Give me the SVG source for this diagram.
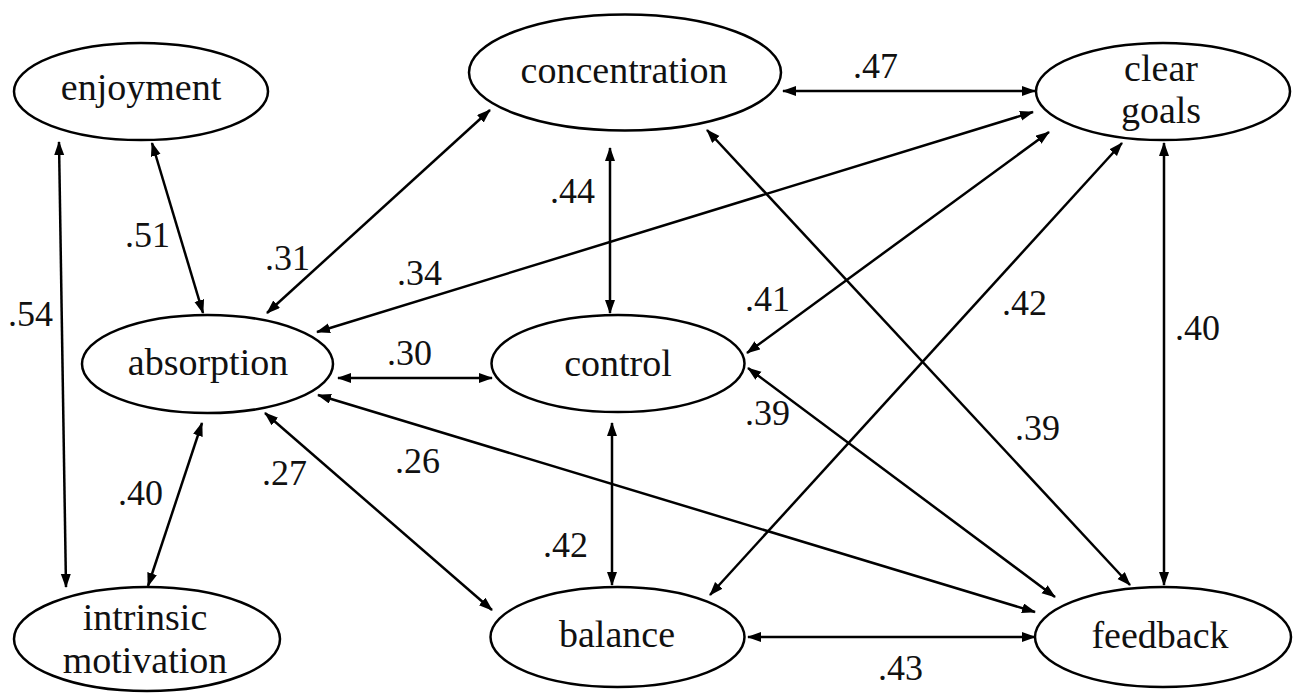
<svg xmlns="http://www.w3.org/2000/svg" width="1295" height="693" viewBox="0 0 1295 693">
<style>
.node ellipse{fill:#fff;stroke:#000;stroke-width:2.5}
.node text{font-family:'Liberation Serif','Times New Roman',serif;font-size:38px;fill:#111;text-anchor:middle}
.edges line{stroke:#000;stroke-width:2.5;marker-start:url(#ah);marker-end:url(#ah)}
.lbl{font-family:'Liberation Serif','Times New Roman',serif;font-size:36px;fill:#111}
</style>
<defs>
<marker id="ah" markerUnits="userSpaceOnUse" markerWidth="16" markerHeight="12" refX="13" refY="5" orient="auto-start-reverse">
<path d="M0,0 L14,5 L0,10 z" fill="#000"/>
</marker>
</defs>
<rect width="1295" height="693" fill="#fff"/>
<g class="edges">
<line x1="59" y1="142" x2="66" y2="587"/>
<line x1="152" y1="143" x2="203" y2="313"/>
<line x1="267" y1="313" x2="490" y2="110"/>
<line x1="317" y1="332" x2="1033" y2="112"/>
<line x1="338" y1="378" x2="492" y2="378"/>
<line x1="202" y1="423" x2="148" y2="586"/>
<line x1="265" y1="413" x2="492" y2="610"/>
<line x1="318" y1="395" x2="1035" y2="612"/>
<line x1="610" y1="148" x2="610" y2="313"/>
<line x1="783" y1="91" x2="1035" y2="91"/>
<line x1="707" y1="130" x2="1130" y2="585"/>
<line x1="1049" y1="132" x2="747" y2="353"/>
<line x1="1122" y1="143" x2="710" y2="595"/>
<line x1="1164" y1="143" x2="1164" y2="585"/>
<line x1="748" y1="368" x2="1055" y2="597"/>
<line x1="612" y1="423" x2="612" y2="585"/>
<line x1="748" y1="637" x2="1035" y2="637"/>
</g>
<g class="labels">
<text class="lbl" x="8" y="326">.54</text>
<text class="lbl" x="125" y="247">.51</text>
<text class="lbl" x="265" y="270">.31</text>
<text class="lbl" x="397" y="285">.34</text>
<text class="lbl" x="387" y="365">.30</text>
<text class="lbl" x="118" y="505">.40</text>
<text class="lbl" x="262" y="485">.27</text>
<text class="lbl" x="395" y="473">.26</text>
<text class="lbl" x="550" y="203">.44</text>
<text class="lbl" x="853" y="78">.47</text>
<text class="lbl" x="745" y="311">.41</text>
<text class="lbl" x="1002" y="315">.42</text>
<text class="lbl" x="1175" y="340">.40</text>
<text class="lbl" x="745" y="425">.39</text>
<text class="lbl" x="1015" y="440">.39</text>
<text class="lbl" x="543" y="557">.42</text>
<text class="lbl" x="878" y="680">.43</text>
</g>
<g id="enjoyment" class="node"><ellipse cx="141" cy="91.5" rx="127" ry="48.5"/><text x="141" y="100">enjoyment</text></g>
<g id="concentration" class="node"><ellipse cx="625" cy="72.5" rx="156" ry="58"/><text x="624" y="83">concentration</text></g>
<g id="clear-goals" class="node"><ellipse cx="1163" cy="91.5" rx="127" ry="48.5"/><text x="1161" y="81">clear</text><text x="1161" y="123">goals</text></g>
<g id="absorption" class="node"><ellipse cx="207.5" cy="364" rx="125.5" ry="49"/><text x="208" y="375">absorption</text></g>
<g id="control" class="node"><ellipse cx="618" cy="363.5" rx="126.5" ry="48.5"/><text x="618" y="376">control</text></g>
<g id="intrinsic-motivation" class="node"><ellipse cx="147" cy="639" rx="133" ry="52"/><text x="145" y="630">intrinsic</text><text x="145" y="673">motivation</text></g>
<g id="balance" class="node"><ellipse cx="617.5" cy="637" rx="127" ry="50"/><text x="617" y="647">balance</text></g>
<g id="feedback" class="node"><ellipse cx="1163" cy="637" rx="128" ry="50"/><text x="1160" y="648">feedback</text></g>
</svg>
